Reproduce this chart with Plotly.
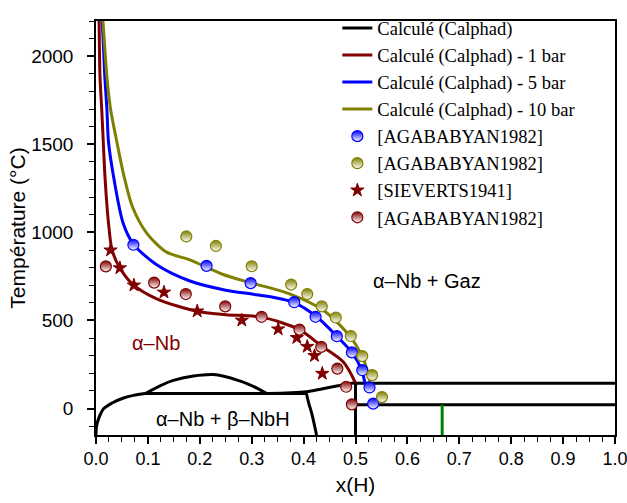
import plotly.graph_objects as go

# ---- Calculated curves (x(H), T in °C) ----
red_x = [0.006, 0.0077, 0.011, 0.014, 0.017, 0.024, 0.031, 0.046, 0.072, 0.117, 0.194, 0.25, 0.319, 0.392, 0.434, 0.477, 0.500]
red_T = [2200, 1884, 1700, 1516, 1331, 1055, 899, 798, 702, 623, 552, 533, 519, 448, 356, 263, 146]

blue_x = [0.012, 0.017, 0.021, 0.024, 0.033, 0.052, 0.072, 0.117, 0.181, 0.25, 0.30, 0.341, 0.380, 0.425, 0.464, 0.493, 0.512, 0.518]
blue_T = [2200, 1884, 1700, 1516, 1331, 1055, 934, 816, 724, 672, 650, 632, 604, 521, 411, 319, 218, 146]

olive_x = [0.0135, 0.021, 0.028, 0.040, 0.053, 0.070, 0.098, 0.136, 0.181, 0.245, 0.297, 0.374, 0.438, 0.489, 0.515, 0.525, 0.528]
olive_T = [2200, 1884, 1700, 1516, 1331, 1147, 995, 888, 844, 761, 715, 650, 558, 411, 282, 190, 150]

# ---- Phase boundaries (black), segments separated by None ----
black_x = [0.0, 0.001, 0.006, 0.015, 0.030, 0.053, 0.072, 0.095, None,
           0.095, 0.405, None,
           0.095, 0.149, 0.226, 0.277, 0.310, 0.329, None,
           0.329, 0.405, 0.437, 0.477, 0.500, None,
           0.405, 0.410, 0.416, 0.425, None,
           0.500, 0.500, None,
           0.500, 1.0, None,
           0.500, 1.0]
black_T = [-150, -100, -50, 0, 30, 60, 75, 85, None,
           85, 85, None,
           85, 160, 193, 157, 116, 85, None,
           85, 95, 113, 135, 146, None,
           90, 30, -31, -150, None,
           -150, 146, None,
           144, 144, None,
           22, 22]

green_x = [0.667, 0.667]
green_T = [-150, 22]

# ---- Experimental points ----
agab_blue_x = [0.072, 0.213, 0.298, 0.382, 0.423, 0.464, 0.493, 0.513, 0.527, 0.534]
agab_blue_T = [930, 810, 712, 604, 521, 411, 319, 218, 120, 28]

agab_olive_x = [0.174, 0.231, 0.300, 0.376, 0.407, 0.435, 0.462, 0.491, 0.513, 0.532, 0.551]
agab_olive_T = [977, 923, 808, 704, 650, 580, 517, 412, 298, 190, 65]

sieverts_x = [0.028, 0.046, 0.073, 0.131, 0.195, 0.281, 0.351, 0.387, 0.407, 0.421, 0.436]
sieverts_T = [899, 798, 700, 660, 553, 501, 451, 402, 352, 300, 199]

agab_red_x = [0.019, 0.112, 0.173, 0.249, 0.319, 0.392, 0.434, 0.465, 0.482, 0.493]
agab_red_T = [807, 715, 650, 580, 521, 448, 350, 227, 124, 24]

DARKRED = "rgb(128,0,0)"
BLUE = "rgb(0,0,255)"
OLIVE = "rgb(128,128,0)"
GREEN = "rgb(0,128,0)"
SANS = "Liberation Sans, Arial, sans-serif"

fig = go.Figure()

fig.add_trace(go.Scatter(x=black_x, y=black_T, mode="lines", name="Calculé (Calphad)",
                         line=dict(color="black", width=3, shape="spline", smoothing=0.9),
                         connectgaps=False))
fig.add_trace(go.Scatter(x=red_x, y=red_T, mode="lines", name="Calculé (Calphad) - 1 bar",
                         line=dict(color=DARKRED, width=3, shape="spline", smoothing=0.8)))
fig.add_trace(go.Scatter(x=blue_x, y=blue_T, mode="lines", name="Calculé (Calphad) - 5 bar",
                         line=dict(color=BLUE, width=3, shape="spline", smoothing=0.8)))
fig.add_trace(go.Scatter(x=olive_x, y=olive_T, mode="lines", name="Calculé (Calphad) - 10 bar",
                         line=dict(color=OLIVE, width=3, shape="spline", smoothing=0.8)))
fig.add_trace(go.Scatter(x=green_x, y=green_T, mode="lines", showlegend=False,
                         line=dict(color=GREEN, width=3)))


def half_marker(color):
    return dict(symbol="circle", size=11, color=color,
                gradient=dict(type="vertical", color="white"),
                line=dict(color=color, width=1.2))


fig.add_trace(go.Scatter(x=agab_blue_x, y=agab_blue_T, mode="markers", name="[AGABABYAN1982]",
                         marker=half_marker(BLUE)))
fig.add_trace(go.Scatter(x=agab_olive_x, y=agab_olive_T, mode="markers", name="[AGABABYAN1982]",
                         marker=half_marker(OLIVE)))
fig.add_trace(go.Scatter(x=sieverts_x, y=sieverts_T, mode="markers", name="[SIEVERTS1941]",
                         marker=dict(symbol="star", size=10, color=DARKRED,
                                     line=dict(color=DARKRED, width=1))))
fig.add_trace(go.Scatter(x=agab_red_x, y=agab_red_T, mode="markers", name="[AGABABYAN1982]",
                         marker=half_marker(DARKRED)))

ann_font = dict(family=SANS, size=20, color="black")
fig.add_annotation(x=0.116, y=374, text="α–Nb", showarrow=False,
                   font=dict(family=SANS, size=20, color=DARKRED))
fig.add_annotation(x=0.637, y=722, text="α–Nb + Gaz", showarrow=False, font=ann_font)
fig.add_annotation(x=0.245, y=-57, text="α–Nb + β–NbH", showarrow=False, font=ann_font)

axis_common = dict(
    showline=True, linecolor="black", linewidth=1.5, mirror=True,
    ticks="outside", ticklen=7, tickwidth=1.5, tickcolor="black",
    showgrid=False, zeroline=False, automargin=False,
    ticklabeloverflow="allow",
)

fig.update_xaxes(range=[0, 1.0], dtick=0.1, tick0=0, tickformat=".1f",
                 tickfont=dict(family=SANS, size=18, color="black"),
                 minor=dict(dtick=0.025, ticks="outside", ticklen=5, tickcolor="black", tickwidth=1.2),
                 title=dict(text="x(H)", standoff=9, font=dict(family=SANS, size=21, color="black")),
                 **axis_common)
fig.update_yaxes(range=[-150, 2200], dtick=500, tick0=0,
                 tickfont=dict(family=SANS, size=19, color="black"),
                 ticklabelstandoff=10,
                 minor=dict(dtick=100, ticks="outside", ticklen=5, tickcolor="black", tickwidth=1.2),
                 title=dict(text="Température (°C)", standoff=0, font=dict(family=SANS, size=21, color="black")),
                 **axis_common)

fig.update_layout(
    width=627, height=503,
    margin=dict(l=96, r=12, t=9, b=68),
    plot_bgcolor="white", paper_bgcolor="white",
    legend=dict(x=0.465, y=1.028, xanchor="left", yanchor="top",
                bgcolor="rgba(0,0,0,0)", borderwidth=0, tracegroupgap=0,
                font=dict(family="Liberation Serif, Times New Roman, serif", size=18.5, color="black")),
)

# Remove the page's default body margin so the figure fills the window exactly.
fig.write_html("out.html", config={"displayModeBar": False},
               post_script="document.body.style.margin='0';document.body.style.overflow='hidden';")
